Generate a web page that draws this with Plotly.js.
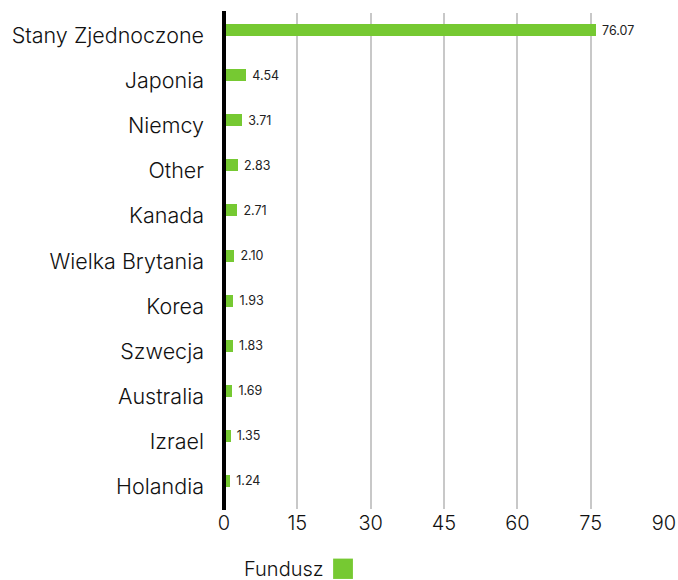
<!DOCTYPE html>
<html>
<head>
<meta charset="utf-8">
<script src="https://cdn.plot.ly/plotly-3.0.1.min.js"></script>
<style>html,body{margin:0;padding:0;background:#fff;}#chart{width:678px;height:580px;}</style>
</head>
<body>
<div id="chart"></div>
<script>
const countries = ["Stany Zjednoczone","Japonia","Niemcy","Other","Kanada","Wielka Brytania","Korea","Szwecja","Australia","Izrael","Holandia"];
const fundValues = [76.07,4.54,3.71,2.83,2.71,2.10,1.93,1.83,1.69,1.35,1.24];
const xTicks = [0,15,30,45,60,75,90];
const seriesName = "Fundusz";
const green = "#76c932";

const trace = {
  type: "bar",
  orientation: "h",
  x: fundValues,
  y: countries,
  name: seriesName,
  marker: {color: green},
  width: 0.266,
  offset: -0.255,
  text: fundValues.map(v => "\u2005" + v.toFixed(2)),
  textposition: "outside",
  constraintext: "none",
  textfont: {family: "Inter, sans-serif", size: 12.5, color: "#222"},
  cliponaxis: false,
  hoverinfo: "none"
};

const layout = {
  width: 678, height: 580,
  margin: {l: 224, r: 14, t: 13, b: 71},
  paper_bgcolor: "#fff", plot_bgcolor: "#fff",
  font: {family: "Inter, sans-serif", color: "#111"},
  showlegend: false,
  bargap: 0,
  xaxis: {
    range: [0, 90],
    tickvals: xTicks,
    ticktext: xTicks.map(String),
    tickfont: {size: 20, color: "#111", weight: 300},
    showgrid: true, gridcolor: "#c8c8c8", gridwidth: 2,
    zeroline: false, showline: false, ticks: "",
    fixedrange: true
  },
  yaxis: {
    autorange: "reversed",
    tickfont: {size: 21.5, color: "#111", weight: 300},
    showgrid: false, zeroline: false,
    showline: false, ticks: "",
    ticklabelstandoff: 19,
    fixedrange: true
  },
  shapes: [
    {type: "line", xref: "paper", yref: "paper", x0: 0, x1: 0, y0: -0.002, y1: 1.004, line: {color: "#000", width: 4}},
    {type: "rect", xref: "paper", yref: "paper", x0: 0.248, x1: 0.293, y0: -0.1, y1: -0.141, fillcolor: green, line: {width: 0}}
  ],
  annotations: [
    {xref: "paper", yref: "paper", x: 0.232, y: -0.12, xanchor: "right", yanchor: "middle", text: seriesName, showarrow: false, font: {size: 20, color: "#111", weight: 300}}
  ]
};

Plotly.newPlot("chart", [trace], layout, {displayModeBar: false, staticPlot: true});
</script>
</body>
</html>
